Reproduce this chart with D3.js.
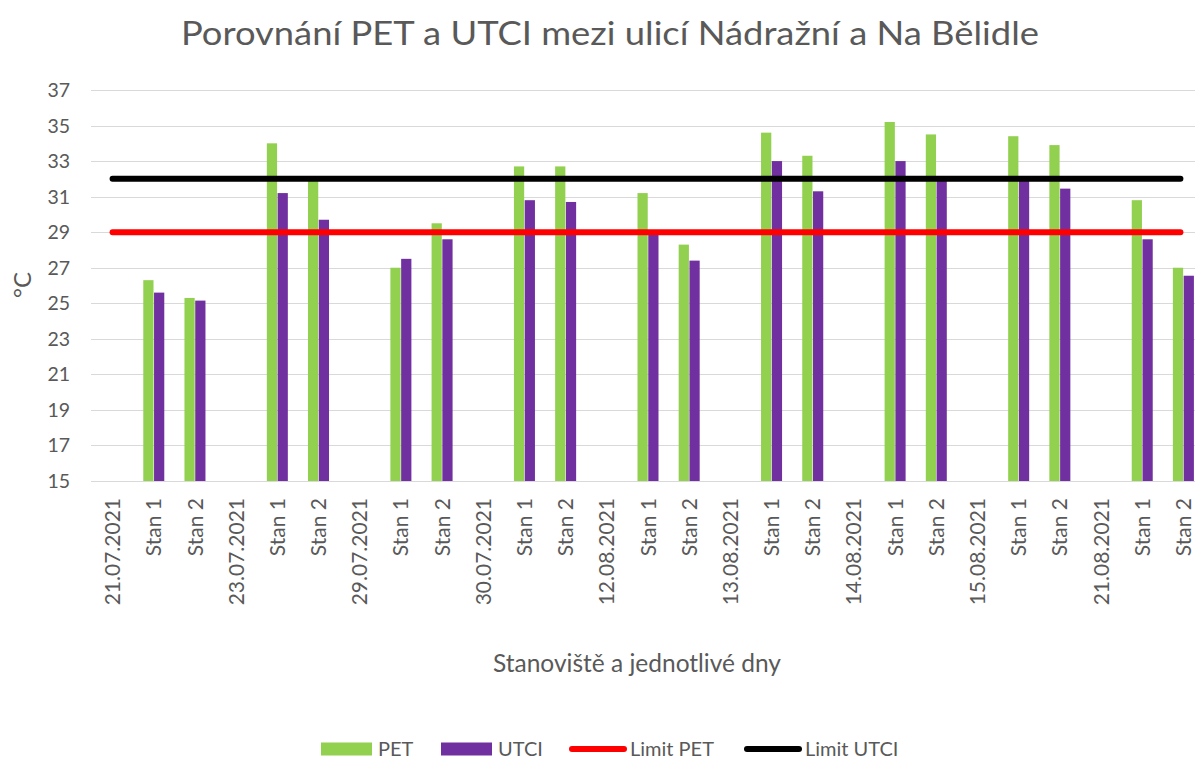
<!DOCTYPE html>
<html>
<head>
<meta charset="utf-8">
<title>Porovnání PET a UTCI</title>
<style>
    body { margin: 0; background: #fff; }
    svg text { font-family: Lato, "Open Sans", sans-serif; fill: #595959; }
    .grid line { stroke: #d9d9d9; stroke-width: 1px; }
</style>
</head>
<body>
<svg id="chart" width="1195" height="760"></svg>
<script src="https://cdn.jsdelivr.net/npm/d3@7"></script>
<script>
// categories: date row followed by the two stations
var dates = ["21.07.2021", "23.07.2021", "29.07.2021", "30.07.2021", "12.08.2021",
             "13.08.2021", "14.08.2021", "15.08.2021", "21.08.2021"];
var stations = ["Stan 1", "Stan 2"];

// values per station per day (date rows have no bars)
var petValues  = [26.3, 25.3, 34.0, 31.9, 27.0, 29.5, 32.7, 32.7, 31.2, 28.3,
                  34.6, 33.3, 35.2, 34.5, 34.4, 33.9, 30.8, 27.0];
var utciValues = [25.6, 25.15, 31.2, 29.7, 27.5, 28.6, 30.8, 30.7, 28.9, 27.4,
                  33.0, 31.3, 33.0, 31.9, 31.9, 31.45, 28.6, 26.55];

var yTicks = [15, 17, 19, 21, 23, 25, 27, 29, 31, 33, 35, 37];
var limitPet = 29;
var limitUtci = 32;

// build the category table
var categories = [];
var k = 0;
dates.forEach(function(d) {
    categories.push({label: d, pet: null, utci: null});
    stations.forEach(function(s) {
        categories.push({label: s, pet: petValues[k], utci: utciValues[k]});
        k++;
    });
});
categories.forEach(function(d, i) { d.idx = i; });

var svg = d3.select("#chart");

var plotLeft = 92, plotRight = 1204, plotTop = 90, plotBottom = 481;

var x = d3.scaleBand()
    .domain(categories.map(function(d) { return d.idx; }))
    .range([plotLeft, plotRight]);

var y = d3.scaleLinear()
    .domain([15, 37])
    .range([plotBottom, plotTop]);

var groupWidth = 21;
var inner = d3.scaleBand()
    .domain(["pet", "utci"])
    .range([-groupWidth / 2, groupWidth / 2])
    .paddingInner(0.05);

var colors = {pet: "#92d050", utci: "#7030a0"};

function cx(i) { return x(i) + x.bandwidth() / 2; }

// title
svg.append("text")
    .attr("x", 610)
    .attr("y", 45)
    .attr("text-anchor", "middle")
    .attr("textLength", 858)
    .attr("lengthAdjust", "spacingAndGlyphs")
    .style("font-size", "33px")
    .text("Porovnání PET a UTCI mezi ulicí Nádražní a Na Bělidle");

// gridlines
svg.append("g")
    .attr("class", "grid")
    .selectAll("line")
    .data(yTicks)
    .enter()
    .append("line")
    .attr("x1", plotLeft - 1)
    .attr("x2", plotRight)
    .attr("y1", function(d) { return Math.round(y(d)) + 0.5; })
    .attr("y2", function(d) { return Math.round(y(d)) + 0.5; });

// y tick labels
svg.append("g")
    .selectAll("text")
    .data(yTicks)
    .enter()
    .append("text")
    .attr("x", 70)
    .attr("y", function(d) { return y(d); })
    .attr("dy", "0.36em")
    .attr("text-anchor", "end")
    .style("font-size", "19.5px")
    .text(function(d) { return d; });

// y axis title
svg.append("text")
    .attr("transform", "translate(31,285) rotate(-90)")
    .attr("text-anchor", "middle")
    .style("font-size", "24px")
    .text("°C");

// bars
var barData = [];
categories.forEach(function(d) {
    if (d.pet != null) {
        barData.push({idx: d.idx, key: "pet", value: d.pet});
        barData.push({idx: d.idx, key: "utci", value: d.utci});
    }
});

svg.append("g")
    .selectAll("rect")
    .data(barData)
    .enter()
    .append("rect")
    .attr("x", function(d) { return cx(d.idx) + inner(d.key); })
    .attr("width", inner.bandwidth())
    .attr("y", function(d) { return y(d.value); })
    .attr("height", function(d) { return y(15) - y(d.value); })
    .attr("fill", function(d) { return colors[d.key]; });

// limit lines from first to last category
var limits = [
    {value: limitPet, color: "#ff0000"},
    {value: limitUtci, color: "#000000"}
];
var first = categories[0].idx, last = categories[categories.length - 1].idx;

svg.append("g")
    .selectAll("line")
    .data(limits)
    .enter()
    .append("line")
    .attr("x1", cx(first))
    .attr("x2", cx(last) - 3)
    .attr("y1", function(d) { return y(d.value); })
    .attr("y2", function(d) { return y(d.value); })
    .attr("stroke", function(d) { return d.color; })
    .attr("stroke-width", 6)
    .attr("stroke-linecap", "round");

// x category labels
svg.append("g")
    .selectAll("text")
    .data(categories)
    .enter()
    .append("text")
    .attr("transform", function(d) {
        return "translate(" + cx(d.idx) + ",498) rotate(-90)";
    })
    .attr("dy", "0.36em")
    .attr("text-anchor", "end")
    .style("font-size", "21px")
    .text(function(d) { return d.label; });

// x axis title
svg.append("text")
    .attr("x", 637)
    .attr("y", 672)
    .attr("text-anchor", "middle")
    .style("font-size", "24.5px")
    .text("Stanoviště a jednotlivé dny");

// legend
var legendItems = [
    {label: "PET", type: "rect", color: colors.pet, x: 321},
    {label: "UTCI", type: "rect", color: colors.utci, x: 441},
    {label: "Limit PET", type: "line", color: "#ff0000", x: 569},
    {label: "Limit UTCI", type: "line", color: "#000000", x: 744}
];

var legend = svg.append("g")
    .selectAll("g")
    .data(legendItems)
    .enter()
    .append("g")
    .attr("transform", function(d) { return "translate(" + d.x + ",749)"; });

legend.filter(function(d) { return d.type == "rect"; })
    .append("rect")
    .attr("x", 0)
    .attr("y", -6.5)
    .attr("width", 51)
    .attr("height", 13)
    .attr("fill", function(d) { return d.color; });

legend.filter(function(d) { return d.type == "line"; })
    .append("line")
    .attr("x1", 3)
    .attr("x2", 55)
    .attr("y1", 0)
    .attr("y2", 0)
    .attr("stroke", function(d) { return d.color; })
    .attr("stroke-width", 6)
    .attr("stroke-linecap", "round");

legend.append("text")
    .attr("x", function(d) { return d.type == "rect" ? 57 : 61; })
    .attr("y", 0)
    .attr("dy", "0.36em")
    .style("font-size", "20px")
    .text(function(d) { return d.label; });
</script>
</body>
</html>
